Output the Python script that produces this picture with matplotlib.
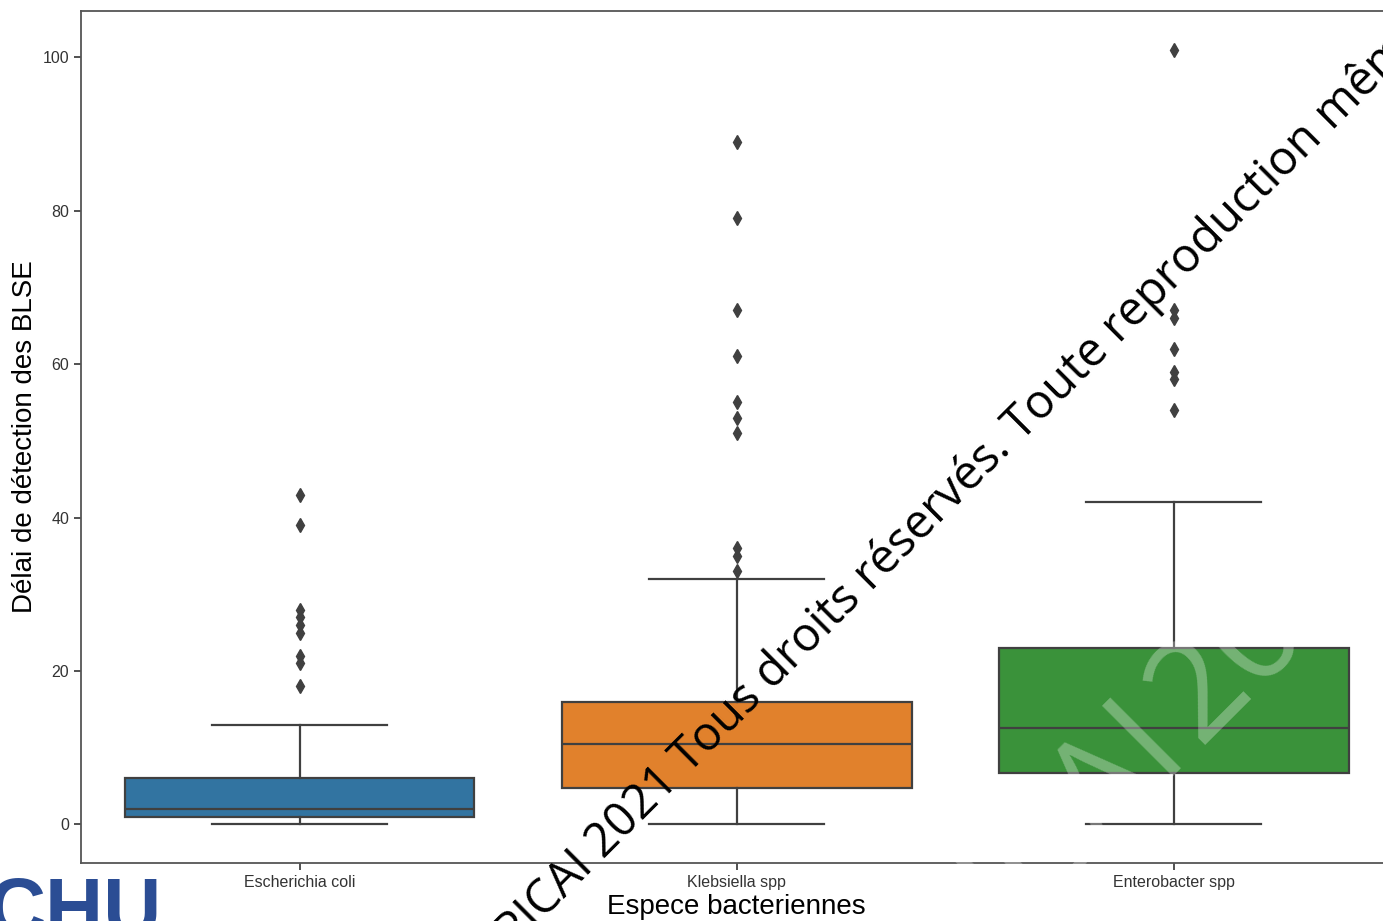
import matplotlib
matplotlib.use('Agg')
import matplotlib.pyplot as plt

# Box statistics per species (days)
categories = ['Escherichia coli', 'Klebsiella spp', 'Enterobacter spp']
q1 = [1, 4.75, 6.75]
medians = [2, 10.5, 12.5]
q3 = [6, 16, 23]
whisker_low = [0, 0, 0]
whisker_high = [13, 32, 42]
outliers = [
    [18, 21, 22, 25, 26, 27, 28, 39, 43],
    [33, 35, 36, 51, 53, 55, 61, 67, 79, 89],
    [54, 58, 59, 62, 66, 67, 101],
]
box_colors = ['#3274a1', '#e1812c', '#3a923a']
line_color = '#404040'

plt.rcParams['font.family'] = ['Liberation Sans', 'DejaVu Sans']

fig = plt.figure(figsize=(13.83, 9.21), dpi=100)
ax = fig.add_axes([81 / 1383, 58 / 921, (1392.5 - 81) / 1383, (863 - 11) / 921])

stats = []
for i, name in enumerate(categories):
    stats.append({
        'label': name,
        'q1': q1[i], 'med': medians[i], 'q3': q3[i],
        'whislo': whisker_low[i], 'whishi': whisker_high[i],
        'fliers': outliers[i],
    })

lw = 1.6
bp = ax.bxp(stats, positions=range(len(categories)), widths=0.8,
            patch_artist=True, showfliers=True,
            boxprops=dict(edgecolor=line_color, linewidth=lw),
            medianprops=dict(color=line_color, linewidth=lw),
            whiskerprops=dict(color=line_color, linewidth=lw),
            capprops=dict(color=line_color, linewidth=lw),
            flierprops=dict(marker='d', markerfacecolor=line_color,
                            markeredgecolor=line_color, markersize=7,
                            linestyle='none'))
for patch, c in zip(bp['boxes'], box_colors):
    patch.set_facecolor(c)

ax.set_xlim(-0.5, 2.5)
ax.set_ylim(-5.05, 106.05)
ax.set_yticks([0, 20, 40, 60, 80, 100])
ax.set_xticks(range(len(categories)))
ax.set_xticklabels(categories)
ax.tick_params(labelsize=11.5, colors='#333333', length=5, width=1.2)
for s in ax.spines.values():
    s.set_color('#555555')
    s.set_linewidth(1.3)

ax.set_xlabel('Espece bacteriennes', fontsize=20, labelpad=3)
ax.set_ylabel('Délai de détection des BLSE', fontsize=20, labelpad=3)

# copyright overlay, diagonal
W, H = 1383, 921
wm = dict(fontsize=34, family=['Open Sans', 'DejaVu Sans'], color='black',
          rotation=45, rotation_mode='anchor', va='baseline', zorder=10)
fig.text(1012 / W, (H - 451) / H, '© SPICAI 2021 Tous droits réservés.',
         ha='right', **wm)
fig.text(1021 / W, (H - 442) / H, 'Toute reproduction même partielle interdite',
         ha='left', **wm)

# faint white overlay
ghost = dict(fontsize=100, family=['Open Sans', 'DejaVu Sans'], color='white',
             alpha=0.3, rotation=45, rotation_mode='anchor', va='baseline',
             zorder=11)
fig.text(1190 / W, (H - 753) / H, 'SPICAI', ha='right', **ghost)
fig.text(1198 / W, (H - 745) / H, '2021', ha='left', **ghost)

# logo corner
fig.text(-12 / W, (H - 935) / H, 'CHU', fontsize=58, weight='bold',
         color='#2b4d94', ha='left', va='baseline')

fig.savefig('out.png', dpi=100)
